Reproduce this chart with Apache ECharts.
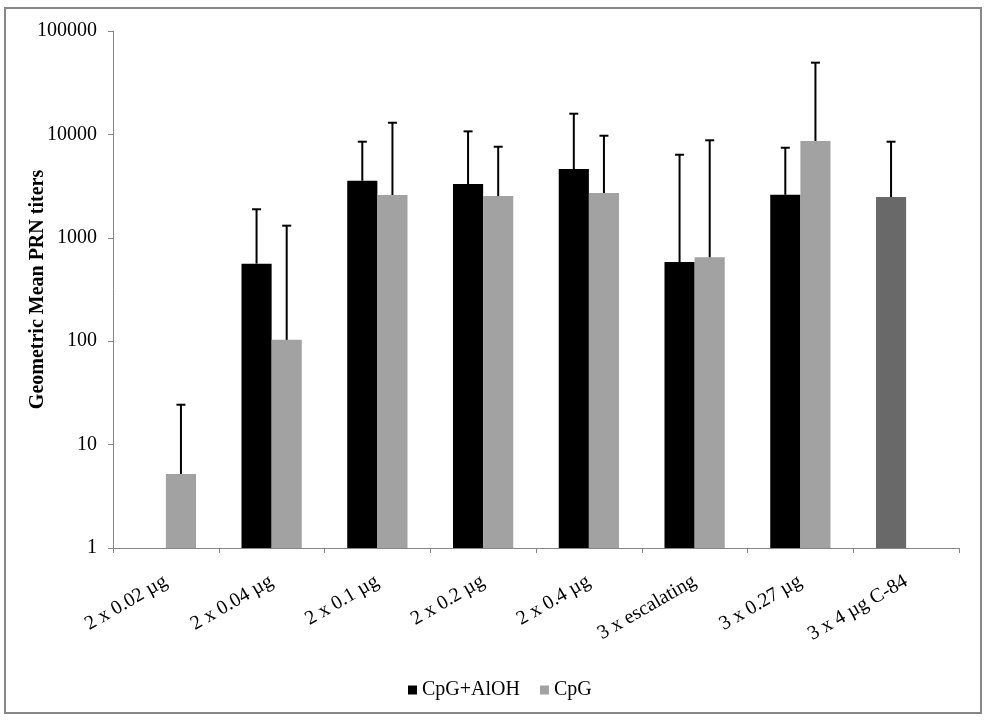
<!DOCTYPE html>
<html>
<head>
<meta charset="utf-8">
<script src="https://cdn.jsdelivr.net/npm/echarts@6/dist/echarts.min.js"></script>
<style>
html,body{margin:0;padding:0;background:#fff;}
#chart{width:986px;height:722px;}
</style>
</head>
<body>
<div id="chart"></div>
<script>
const categories = ['2 x 0.02 µg','2 x 0.04 µg','2 x 0.1 µg','2 x 0.2 µg','2 x 0.4 µg','3 x escalating','3 x 0.27 µg','3 x 4 µg C-84'];
const cpgAlOH      = [null, 562, 3565, 3313, 4625, 583, 2610, 2480];
const cpgAlOHUpper = [null, 1888, 8500, 10700, 15850, 6360, 7430, 8500];
const cpg          = [5.2, 103, 2594, 2536, 2712, 648, 8630, null];
const cpgUpper     = [24.3, 1310, 12970, 7600, 9710, 8770, 49400, null];
const yTicks = [1, 10, 100, 1000, 10000, 100000];

const FONT = 'Liberation Serif';
const CAT_GAP = 0.43;

function errData(vals, ups){
  const out = [];
  vals.forEach((v,i)=>{ if(v!=null && ups[i]!=null) out.push([i, v, ups[i]]); });
  return out;
}
function makeErr(sign){
  return function(params, api){
    const i = api.value(0), v = api.value(1), u = api.value(2);
    const base = api.coord([i, v]);
    const top = api.coord([i, u]);
    const band = Math.abs(api.coord([1, 1])[0] - api.coord([0, 1])[0]);
    const bw = band * (1 - CAT_GAP) / 2;
    const x = base[0] + sign * bw / 2;
    const cap = 4.5;
    return {type:'group', children:[
      {type:'line', shape:{x1:x, y1:base[1], x2:x, y2:top[1]}, style:{stroke:'#000', lineWidth:2}},
      {type:'line', shape:{x1:x-cap, y1:top[1], x2:x+cap, y2:top[1]}, style:{stroke:'#000', lineWidth:2}}
    ]};
  };
}

const chart = echarts.init(document.getElementById('chart'));
chart.setOption({
  animation:false,
  backgroundColor:'#fff',
  textStyle:{fontFamily:FONT},
  graphic:[{type:'rect', shape:{x:5, y:8, width:976, height:705}, style:{fill:'none', stroke:'#878787', lineWidth:2}, silent:true}],
  grid:{left:113, right:27, top:31, bottom:174, containLabel:false},
  legend:{
    data:['CpG+AlOH','CpG'], top:675, left:403, icon:'rect', itemWidth:9, itemHeight:9, itemGap:20,
    textStyle:{fontFamily:FONT, fontSize:20, color:'#000'}
  },
  xAxis:{
    type:'category', data:categories,
    axisLine:{lineStyle:{color:'#868686', width:1}},
    axisTick:{show:true, length:5, lineStyle:{color:'#868686'}},
    axisLabel:{rotate:30, margin:32, fontSize:20, fontFamily:FONT, color:'#000', interval:0}
  },
  yAxis:{
    type:'log', logBase:10, min:1, max:100000, interval:1,
    name:'Geometric Mean PRN titers', nameLocation:'middle', nameGap:65, nameRotate:90, nameMoveOverlap:false,
    nameTextStyle:{fontFamily:FONT, fontSize:20, fontWeight:'bold', color:'#000'},
    axisLine:{show:true, lineStyle:{color:'#868686', width:1}},
    axisTick:{show:true, length:5, lineStyle:{color:'#868686'}},
    splitLine:{show:false},
    axisLabel:{fontSize:20, fontFamily:FONT, color:'#000', margin:16, formatter:v=>String(Math.round(v))}
  },
  series:[
    {name:'CpG+AlOH', type:'bar', barGap:'0%', barCategoryGap:(CAT_GAP*100)+'%',
     itemStyle:{color:'#000'},
     data:cpgAlOH.map((v,i)=> v==null ? null : (i===7 ? {value:v, itemStyle:{color:'#696969'}} : v))},
    {name:'CpG', type:'bar', barGap:'0%', barCategoryGap:(CAT_GAP*100)+'%',
     itemStyle:{color:'#a2a2a2'},
     data:cpg},
    {name:'errA', type:'custom', renderItem:makeErr(-1), data:errData(cpgAlOH, cpgAlOHUpper), encode:{x:0, y:[1,2]}, z:5, silent:true},
    {name:'errB', type:'custom', renderItem:makeErr(1), data:errData(cpg, cpgUpper), encode:{x:0, y:[1,2]}, z:5, silent:true}
  ]
});
</script>
</body>
</html>
